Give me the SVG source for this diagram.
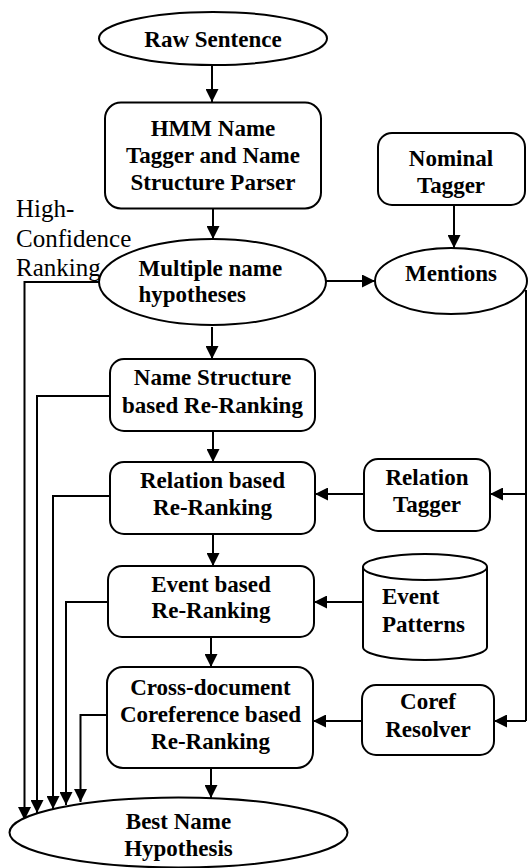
<svg xmlns="http://www.w3.org/2000/svg" width="528" height="868" viewBox="0 0 528 868">
<style>
  .shape { fill: #ffffff; stroke: #000000; stroke-width: 2; }
  .lbl { font-family: "Liberation Serif", "Times New Roman", serif; font-weight: bold; font-size: 23px; fill: #000000; text-anchor: middle; }
  .lbl-l { font-family: "Liberation Serif", "Times New Roman", serif; font-weight: bold; font-size: 23px; fill: #000000; text-anchor: start; }
  .note { font-family: "Liberation Serif", "Times New Roman", serif; font-size: 25px; fill: #000000; }
  .conn { fill: none; stroke: #000000; stroke-width: 2; }
  .arr { marker-end: url(#ah); }
</style>
<defs>
  <marker id="ah" markerUnits="userSpaceOnUse" markerWidth="14" markerHeight="13" refX="13" refY="6.5" orient="auto">
    <path d="M0,0 L13,6.5 L0,13 z" fill="#000000"/>
  </marker>
</defs>
<rect x="0" y="0" width="528" height="868" fill="#ffffff"/>

<g id="connectors">
  <line class="conn arr" x1="212" y1="66" x2="212" y2="102"/>
  <line class="conn arr" x1="213" y1="209" x2="213" y2="239"/>
  <line class="conn arr" x1="454" y1="205" x2="454" y2="248"/>
  <line class="conn arr" x1="326" y1="281" x2="375" y2="281"/>
  <line class="conn arr" x1="212" y1="327" x2="212" y2="359"/>
  <line class="conn arr" x1="213" y1="431" x2="213" y2="462"/>
  <line class="conn arr" x1="213" y1="534" x2="213" y2="566"/>
  <line class="conn arr" x1="211" y1="637" x2="211" y2="667"/>
  <line class="conn arr" x1="211" y1="768" x2="211" y2="798"/>
  <line class="conn arr" x1="364" y1="494" x2="315" y2="494"/>
  <line class="conn arr" x1="363" y1="602" x2="314" y2="602"/>
  <line class="conn arr" x1="362" y1="721" x2="313" y2="721"/>
  <path class="conn" d="M526,290 V721"/>
  <line class="conn arr" x1="526" y1="494" x2="490" y2="494"/>
  <line class="conn arr" x1="526" y1="721" x2="494" y2="721"/>
  <path class="conn arr" d="M99,282 H24.5 V820"/>
  <path class="conn arr" d="M110,396 H37 V813"/>
  <path class="conn arr" d="M110,496 H53 V809"/>
  <path class="conn arr" d="M108,602 H66 V805"/>
  <path class="conn arr" d="M107,715 H80.5 V802"/>
</g>

<g id="raw-sentence">
  <ellipse class="shape" cx="213" cy="38.5" rx="114" ry="26.5"/>
  <text class="lbl" x="213" y="47">Raw Sentence</text>
</g>

<g id="hmm-tagger">
  <rect class="shape" x="105" y="102.5" width="216" height="106" rx="16"/>
  <text class="lbl" x="213" y="136">HMM Name</text>
  <text class="lbl" x="213" y="163">Tagger and Name</text>
  <text class="lbl" x="213" y="190">Structure Parser</text>
</g>

<g id="nominal-tagger">
  <rect class="shape" x="378" y="133" width="147" height="72" rx="14"/>
  <text class="lbl" x="451" y="166">Nominal</text>
  <text class="lbl" x="451" y="193">Tagger</text>
</g>

<g id="high-confidence-note">
  <text class="note" x="16" y="217">High-</text>
  <text class="note" x="16" y="247">Confidence</text>
  <text class="note" x="16" y="276">Ranking</text>
</g>

<g id="multiple-hypotheses">
  <ellipse class="shape" cx="212.5" cy="282" rx="113.5" ry="43"/>
  <text class="lbl-l" x="138.5" y="276">Multiple name</text>
  <text class="lbl-l" x="138.5" y="302">hypotheses</text>
</g>

<g id="mentions">
  <ellipse class="shape" cx="451" cy="281" rx="76" ry="33"/>
  <text class="lbl" x="451" y="281">Mentions</text>
</g>

<g id="name-structure-reranking">
  <rect class="shape" x="110" y="359" width="205" height="72" rx="14"/>
  <text class="lbl" x="212.5" y="385">Name Structure</text>
  <text class="lbl" x="212.5" y="413">based Re-Ranking</text>
</g>

<g id="relation-reranking">
  <rect class="shape" x="110" y="462" width="205" height="72" rx="14"/>
  <text class="lbl" x="212.5" y="488">Relation based</text>
  <text class="lbl" x="212.5" y="515">Re-Ranking</text>
</g>

<g id="relation-tagger">
  <rect class="shape" x="364" y="459" width="126" height="72" rx="14"/>
  <text class="lbl" x="427" y="485">Relation</text>
  <text class="lbl" x="427" y="512">Tagger</text>
</g>

<g id="event-reranking">
  <rect class="shape" x="108" y="566" width="206" height="71" rx="14"/>
  <text class="lbl" x="211" y="592">Event based</text>
  <text class="lbl" x="211" y="618">Re-Ranking</text>
</g>

<g id="event-patterns">
  <path class="shape" d="M363,567 V647 A62,13 0 0 0 487,647 V567"/>
  <ellipse class="shape" cx="425" cy="567" rx="62" ry="13"/>
  <text class="lbl-l" x="382" y="604">Event</text>
  <text class="lbl-l" x="382" y="632">Patterns</text>
</g>

<g id="cross-doc-reranking">
  <rect class="shape" x="107" y="667" width="206" height="101" rx="16"/>
  <text class="lbl" x="210.5" y="695">Cross-document</text>
  <text class="lbl" x="210.5" y="722">Coreference based</text>
  <text class="lbl" x="210.5" y="749">Re-Ranking</text>
</g>

<g id="coref-resolver">
  <rect class="shape" x="362" y="685" width="132" height="70" rx="14"/>
  <text class="lbl" x="428" y="709">Coref</text>
  <text class="lbl" x="428" y="737">Resolver</text>
</g>

<g id="best-hypothesis">
  <ellipse class="shape" cx="178.5" cy="832.5" rx="169" ry="35"/>
  <text class="lbl" x="178.5" y="829">Best Name</text>
  <text class="lbl" x="178.5" y="856">Hypothesis</text>
</g>
</svg>
